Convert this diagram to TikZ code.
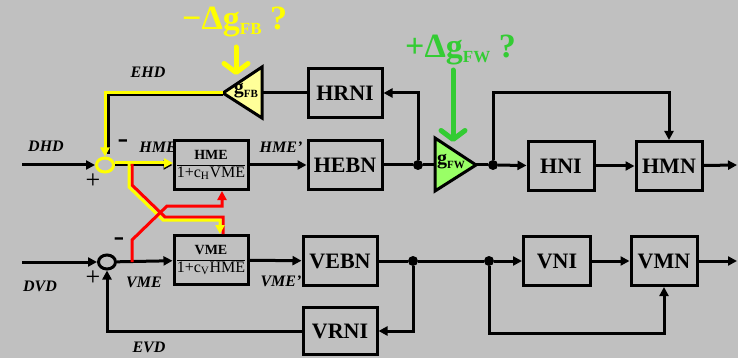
\documentclass[tikz,border=0pt]{standalone}
\usepackage{fontspec}
\setmainfont{Liberation Serif}
\usetikzlibrary{arrows.meta,positioning,calc,shapes.geometric}
\definecolor{panel}{RGB}{192,192,192}
\definecolor{fbyel}{RGB}{255,255,0}
\definecolor{fbfill}{RGB}{255,255,153}
\definecolor{fwgrn}{RGB}{51,204,51}
\definecolor{fwfill}{RGB}{153,255,102}
\definecolor{xred}{RGB}{255,0,0}
\newcommand{\numfont}{\fontsize{14}{15}\selectfont\bfseries}

\begin{document}
\begin{tikzpicture}[x=1pt,y=-1pt,
	blk/.style={draw,line width=3pt,minimum width=74pt,minimum height=49pt,inner sep=0pt,font=\bfseries\fontsize{22}{24}\selectfont},
	fracblk/.style={blk,font=\fontsize{16}{17}\selectfont},
	lbl/.style={font=\bfseries\itshape\fontsize{16}{18}\selectfont,inner sep=0pt},
	sgn/.style={font=\fontsize{26}{26}\selectfont,inner sep=0pt},
	sig/.style={line width=3pt,-{Triangle[length=9pt,width=9pt]}},
	wire/.style={line width=3pt},
	jdot/.style={circle,fill,inner sep=0pt,minimum size=10pt},
	sumj/.style={ellipse,draw,line width=3pt,inner sep=0pt,minimum width=17pt,minimum height=14pt},
	bigarr/.style={line width=5pt,line cap=round,-{Straight Barb[length=9pt,width=24pt,round]}},
	deltxt/.style={font=\bfseries\fontsize{34}{34}\selectfont,inner sep=0pt,anchor=base west}]
	\useasboundingbox (0,0) rectangle (738,358);
	\fill[panel] (0,0) rectangle (738,358);

	\node[blk] (hrni) at (345,93) {HRNI};
	\node[fracblk] (hme) at (211,165) {\setlength{\arrayrulewidth}{1pt}\begin{tabular}{@{}c@{}}{\numfont HME}\\\hline 1+c\textsubscript{H}VME\end{tabular}};
	\node[blk] (hebn) at (345,165) {HEBN};
	\node[blk,minimum width=66pt] (hni) at (561,166) {HNI};
	\node[blk,minimum width=66pt] (hmn) at (669,166) {HMN};
	\node[fracblk] (vme) at (211,260) {\setlength{\arrayrulewidth}{1pt}\begin{tabular}{@{}c@{}}{\numfont VME}\\\hline 1+c\textsubscript{V}HME\end{tabular}};
	\node[blk] (vebn) at (340,261) {VEBN};
	\node[blk,minimum height=47pt] (vrni) at (340,331) {VRNI};
	\node[blk,minimum width=67pt] (vni) at (557,261) {VNI};
	\node[blk,minimum width=66pt] (vmn) at (664,261) {VMN};

	\node[sumj,draw=fbyel] (sh) at (105,165) {};
	\node[sumj] (sv) at (107,262) {};
	\node[jdot] (jh) at (418,165) {};
	\node[jdot] (jh2) at (493,165) {};
	\node[jdot] (jv) at (413,261) {};
	\node[jdot] (jv2) at (489,261) {};

	\draw[line width=3pt,fill=fwfill] (435,138) -- (476,165) -- (435,191) -- cycle;
	\draw[line width=3pt,fill=fbfill] (262,67) -- (223,93) -- (262,118) -- cycle;
	\coordinate (fwin) at (435,165);
	\coordinate (fwout) at (476,165);
	\coordinate (fbin) at (262,93);
	\coordinate (fbout) at (223,93);
	\node[inner sep=0pt] (gfw) at (451,162) {{\bfseries\fontsize{20}{20}\selectfont g}{\bfseries\fontsize{11}{11}\selectfont\raisebox{-4pt}{FW}}};
	\node[inner sep=0pt] (gfb) at (246,91) {{\bfseries\fontsize{20}{20}\selectfont g}{\bfseries\fontsize{11}{11}\selectfont\raisebox{-4pt}{FB}}};

	\coordinate (dhdin) at (22,165);
	\coordinate (dvdin) at (22,262);
	\coordinate (hout) at (737,165);
	\coordinate (vout) at (737,261);

	\draw[sig] (dhdin) -- (sh);
	\draw[sig] (sh) -- (hme);
	\draw[sig] (hme) -- (hebn);
	\draw[wire] (hebn) -- (jh) -- (fwin);
	\draw[wire] (fwout) -- (jh2);
	\draw[sig] (jh2) -- (hni);
	\draw[sig] (hni) -- (hmn);
	\draw[sig] (hmn) -- (hout);
	\draw[sig] (jh) |- (hrni);
	\draw[sig] (jh2) -- ++(0,-72) -| (hmn);
	\draw[wire] (hrni) -- (fbin);

	\draw[sig] (dvdin) -- (sv);
	\draw[sig] (sv) -- (vme);
	\draw[sig] (vme) -- (vebn);
	\draw[wire] (vebn) -- (jv) -- (jv2);
	\draw[sig] (jv2) -- (vni);
	\draw[sig] (vni) -- (vmn);
	\draw[sig] (vmn) -- (vout);
	\draw[sig] (jv) |- (vrni);
	\draw[sig] (jv2) -- ++(0,72) -| (vmn);
	\draw[sig] (vrni) -| (sv);

	\draw[wire] ($(fbout)+(0,2)$) -| ($(sh.north)+(3,-2)$);
	\draw[sig,fbyel] (fbout) -| (sh);
	\draw[sig,fbyel] ($(sh.east)+(0,-2)$) -- ++(58,0);

	\coordinate (ya1) at (129,164);
	\coordinate (ya2) at (129,187);
	\coordinate (ya3) at (163,220);
	\draw[line width=3pt,xred] ($(ya1)+(3,0)$) -- ($(ya2)+(3,-2)$) -- ($(ya3)+(2,-3)$) -| ([xshift=12pt]vme.north);
	\draw[sig,fbyel] (ya1) -- (ya2) -- (ya3) -| ([xshift=9pt]vme.north);
	\coordinate (rb1) at (132,262);
	\coordinate (rb2) at (132,240);
	\coordinate (rb3) at (167,206);
	\draw[sig,xred] (rb1) -- (rb2) -- (rb3) -| ([xshift=11pt]hme.south);

	\node[lbl] (ehd) at (148,72) {EHD};
	\node[lbl] (dhd) at (46,146) {DHD};
	\node[lbl] (hmel) at (158,147) {HME};
	\node[lbl] (hmep) at (281,147) {HME'};
	\node[lbl] (dvd) at (40,286) {DVD};
	\node[lbl] (vmel) at (144,282) {VME};
	\node[lbl] (vmep) at (281,281) {VME'};
	\node[lbl] (evd) at (149,347) {EVD};
	\node[sgn] (hplus) at (93,181) {+};
	\node[sgn,font=\fontsize{32}{32}\selectfont] (hminus) at (123,144) {-};
	\node[sgn] (vplus) at (93,278) {+};
	\node[sgn,font=\fontsize{32}{32}\selectfont] (vminus) at (119,242) {-};

	\node[deltxt,fbyel] (dfb) at (182,30) {−Δg{\fontsize{17}{17}\selectfont\raisebox{-5pt}{FB}} ?};
	\node[deltxt,fwgrn] (dfw) at (405,58) {+Δg{\fontsize{17}{17}\selectfont\raisebox{-5pt}{FW}} ?};
	\coordinate (fbtip) at (236,75);
	\coordinate (fwtip) at (453,142);
	\draw[bigarr,fbyel] (236,47) -- (fbtip);
	\draw[bigarr,fwgrn] (453,70) -- (fwtip);
\end{tikzpicture}
\end{document}
